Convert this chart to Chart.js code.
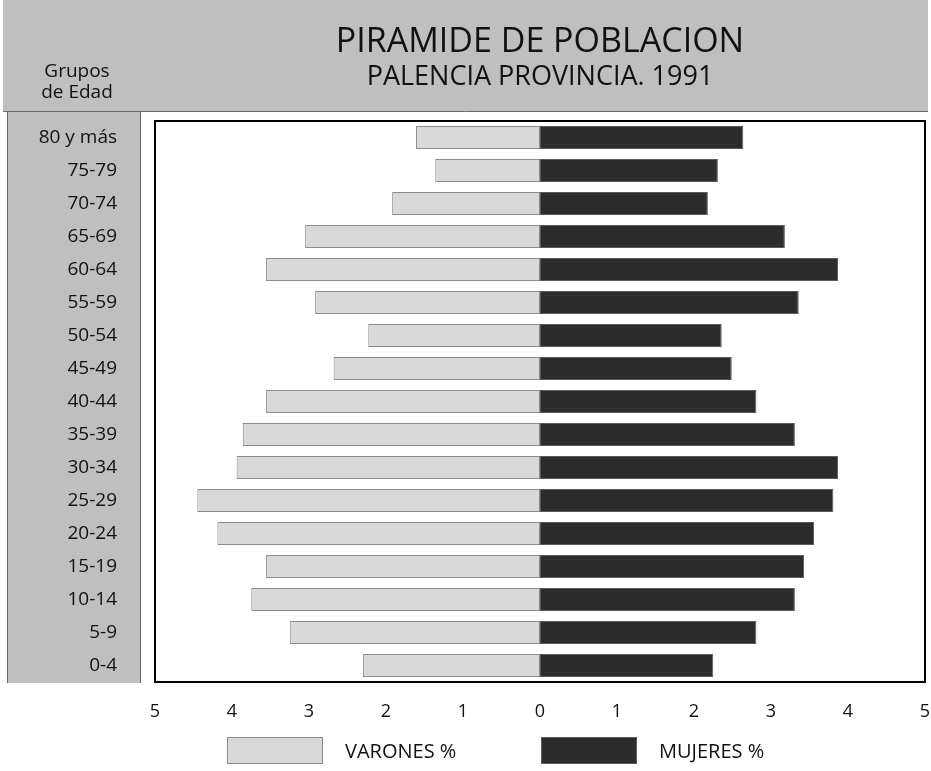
<!DOCTYPE html>
<html>
<head>
<meta charset="utf-8">
<script src="https://cdn.jsdelivr.net/npm/chart.js@4"></script>
<style>
  html, body { margin: 0; padding: 0; background: #fff; }
</style>
</head>
<body>
<canvas id="chart" width="931" height="771"></canvas>
<script>
  // grupos de edad, de arriba a abajo
  const grupos = ['80 y más', '75-79', '70-74', '65-69', '60-64', '55-59', '50-54', '45-49',
    '40-44', '35-39', '30-34', '25-29', '20-24', '15-19', '10-14', '5-9', '0-4'];
  const varones = [1.61, 1.36, 1.92, 3.05, 3.56, 2.92, 2.23, 2.68, 3.56, 3.86, 3.94, 4.45, 4.19, 3.56, 3.75, 3.25, 2.30];
  const mujeres = [2.64, 2.31, 2.18, 3.18, 3.87, 3.36, 2.36, 2.49, 2.81, 3.31, 3.87, 3.81, 3.56, 3.43, 3.31, 2.81, 2.25];
  const ticksX = [-5, -4, -3, -2, -1, 0, 1, 2, 3, 4, 5];

  const FONT = "'Open Sans', 'DejaVu Sans', sans-serif";
  const GRIS = '#bfbfbf';

  const decor = {
    id: 'decor',
    beforeDraw(chart) {
      const ctx = chart.ctx;
      ctx.save();
      ctx.fillStyle = '#fff';
      ctx.fillRect(0, 0, chart.width, chart.height);
      // banda del titulo
      ctx.fillStyle = GRIS;
      ctx.fillRect(3, 0, 925, 111);
      // columna de grupos
      ctx.fillRect(7, 111, 134, 572);
      ctx.strokeStyle = '#6a6a6a';
      ctx.lineWidth = 1;
      ctx.beginPath();
      ctx.moveTo(3, 111.5); ctx.lineTo(928, 111.5);
      ctx.moveTo(7.5, 111); ctx.lineTo(7.5, 683);
      ctx.moveTo(140.5, 111); ctx.lineTo(140.5, 683);
      ctx.stroke();
      ctx.restore();
    },
    afterDraw(chart) {
      const ctx = chart.ctx;
      const a = chart.chartArea;
      ctx.save();
      // marco
      ctx.strokeStyle = '#000';
      ctx.lineWidth = 2;
      ctx.strokeRect(a.left, a.top, a.right - a.left, a.bottom - a.top);

      // titulos
      ctx.fillStyle = '#111';
      ctx.textAlign = 'center';
      ctx.textBaseline = 'middle';
      const cx = (a.left + a.right) / 2;
      ctx.font = '34px ' + FONT;
      ctx.fillText('PIRAMIDE DE POBLACION', cx, 42);
      ctx.font = '27px ' + FONT;
      ctx.fillText('PALENCIA PROVINCIA. 1991', cx, 77);
      ctx.font = '19px ' + FONT;
      ctx.fillText('Grupos', 77, 72);
      ctx.fillText('de Edad', 77, 93);

      // leyenda
      const ds = chart.data.datasets;
      const pos = [227, 541];
      ctx.textAlign = 'left';
      ctx.font = '20px ' + FONT;
      ds.forEach((d, i) => {
        const x = pos[i];
        ctx.fillStyle = d.backgroundColor;
        ctx.fillRect(x, 737, 96, 27);
        ctx.strokeStyle = d.borderColor;
        ctx.lineWidth = 1;
        ctx.strokeRect(x + 0.5, 737.5, 95, 26);
        ctx.fillStyle = '#111';
        ctx.fillText(d.label, x + 118, 752);
      });
      ctx.restore();
    }
  };

  new Chart(
    document.getElementById('chart'),
    {
      type: 'bar',
      data: {
        labels: grupos,
        datasets: [
          {
            label: 'VARONES %',
            data: varones.map(v => -v),
            backgroundColor: '#d9d9d9',
            borderColor: '#8c8c8c',
            borderWidth: 1,
            borderSkipped: false,
            barPercentage: 0.9,
            categoryPercentage: 0.78
          },
          {
            label: 'MUJERES %',
            data: mujeres,
            backgroundColor: '#2c2c2c',
            borderColor: '#5a5a5a',
            borderWidth: 1,
            borderSkipped: false,
            barPercentage: 0.9,
            categoryPercentage: 0.78
          }
        ]
      },
      options: {
        indexAxis: 'y',
        responsive: false,
        animation: false,
        layout: {
          padding: { left: 0, right: 6, top: 121, bottom: 49 }
        },
        plugins: {
          legend: { display: false },
          tooltip: { enabled: false }
        },
        scales: {
          x: {
            stacked: true,
            min: -5,
            max: 5,
            afterBuildTicks: (scale) => {
              scale.ticks = ticksX.map(v => ({ value: v }));
            },
            afterFit: (scale) => {
              scale.height = 40;
              scale.paddingLeft = 0;
              scale.paddingRight = 0;
            },
            grid: { display: false, drawTicks: false },
            border: { display: false },
            ticks: {
              color: '#111',
              padding: 19,
              maxRotation: 0,
              font: { family: FONT, size: 18 },
              callback: (value) => Math.abs(value)
            }
          },
          y: {
            stacked: true,
            afterFit: (scale) => { scale.width = 155; },
            grid: { display: false, drawTicks: false },
            border: { display: false },
            ticks: {
              color: '#111',
              padding: 38,
              crossAlign: 'near',
              font: { family: FONT, size: 19 }
            }
          }
        }
      },
      plugins: [decor]
    }
  );
</script>
</body>
</html>
